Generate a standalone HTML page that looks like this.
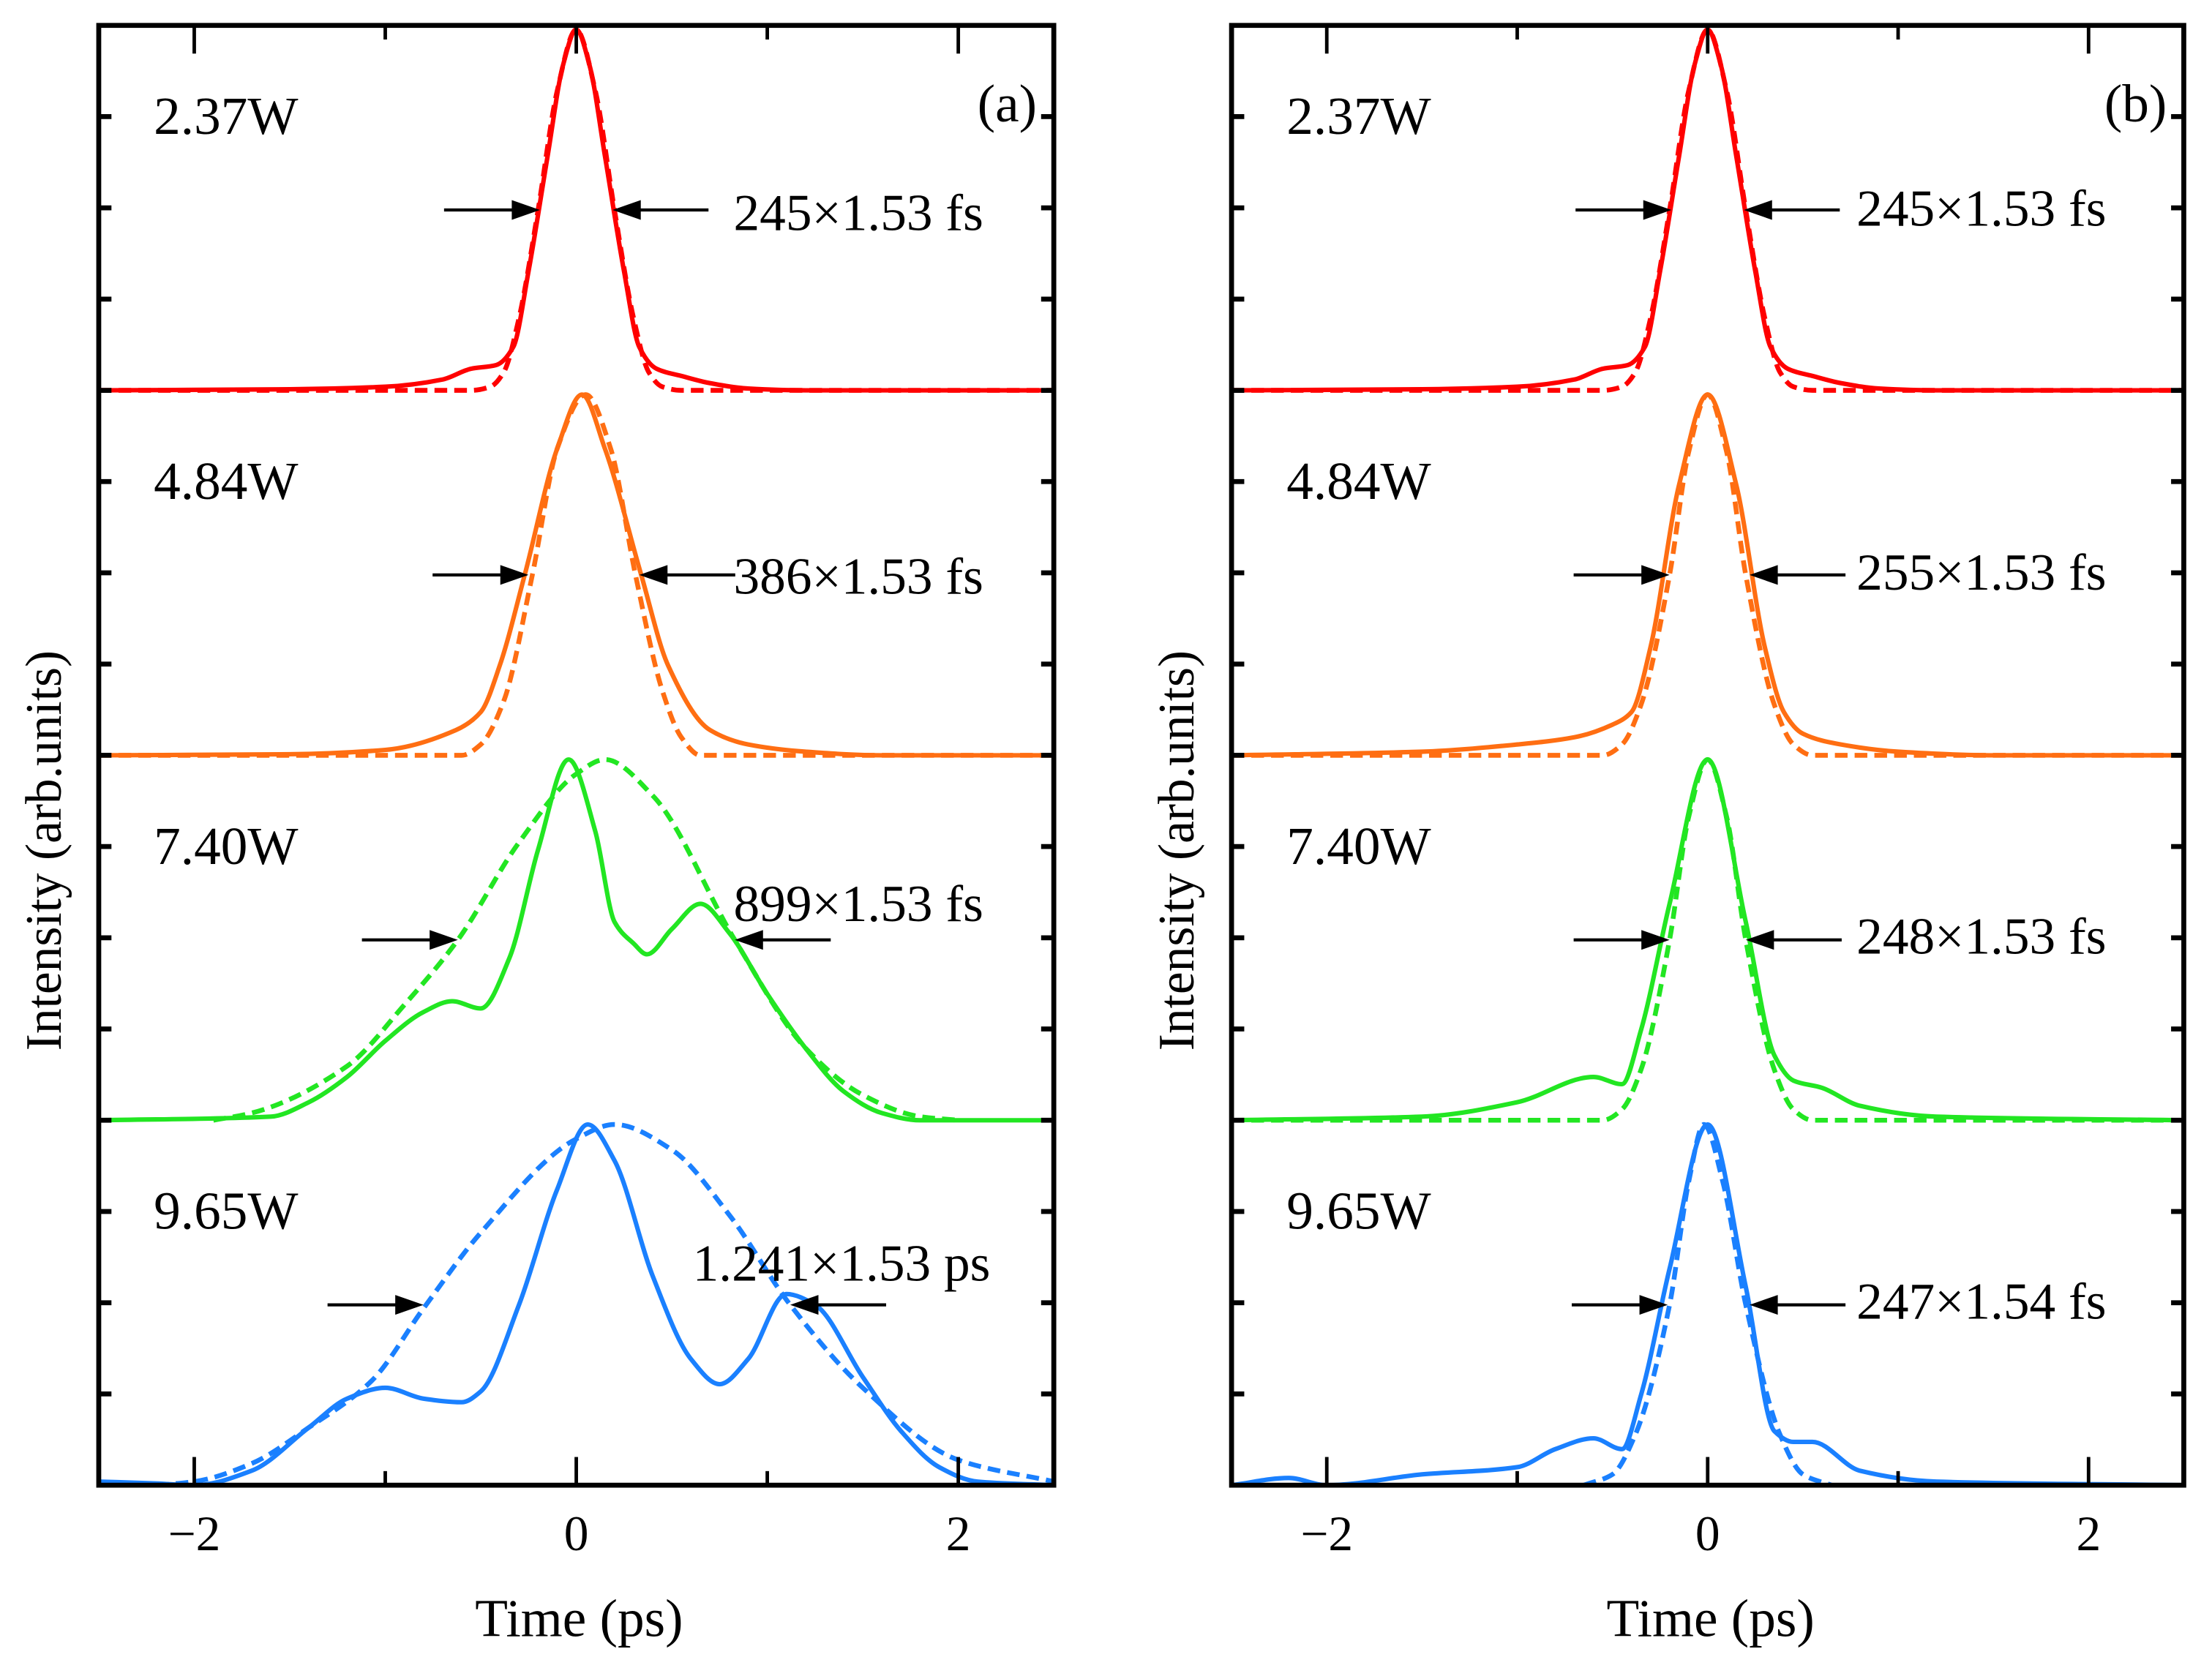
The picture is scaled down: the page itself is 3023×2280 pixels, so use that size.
<!DOCTYPE html>
<html><head><meta charset="utf-8"><style>
html,body{margin:0;padding:0;background:#fff;}
svg{display:block;}
text{font-family:"Liberation Serif",serif;fill:#000;}
</style></head><body>
<svg id="fig" width="3023" height="2280" viewBox="0 0 1568 1182.6" xmlns="http://www.w3.org/2000/svg"></svg>
<script>
// ---- data (time in ps, normalized intensity) ----
const redT  = [-2.5,-1.5,-1.0,-0.7,-0.55,-0.42,-0.33,-0.25,-0.15,-0.07,0,0.07,0.15,0.25,0.33,0.42,0.55,0.7,0.9,1.2,2.5];
const redV  = [0,0.003,0.01,0.03,0.06,0.07,0.12,0.33,0.65,0.9,1,0.9,0.65,0.33,0.12,0.06,0.04,0.02,0.005,0,0];
const redFT = [-2.5,-0.55,-0.45,-0.38,-0.3,-0.2,-0.1,0,0.1,0.2,0.3,0.38,0.45,0.55,2.5];
const redFV = [0,0,0.01,0.05,0.2,0.5,0.83,1,0.83,0.5,0.2,0.05,0.01,0,0];
const redFBT = redFT, redFBV = redFV;

const orAT  = [-2.5,-1.5,-1.0,-0.63,-0.5,-0.4,-0.27,-0.1,0.03,0.15,0.34,0.48,0.7,0.9,1.2,1.6,2.5];
const orAV  = [0,0.003,0.015,0.07,0.12,0.25,0.5,0.85,1,0.85,0.5,0.25,0.07,0.03,0.01,0,0];
const orAFT = [-2.5,-0.6,-0.5,-0.38,-0.23,-0.1,0.05,0.18,0.31,0.45,0.55,0.65,2.5];
const orAFV = [0,0,0.03,0.15,0.5,0.85,1,0.85,0.5,0.18,0.05,0,0];

const grAT  = [-2.5,-1.6,-1.4,-1.2,-1.0,-0.8,-0.65,-0.5,-0.35,-0.2,-0.04,0.1,0.2,0.3,0.37,0.5,0.65,0.8,1.0,1.2,1.4,1.6,1.8,2.5];
const grAV  = [0,0.01,0.05,0.12,0.22,0.30,0.33,0.31,0.45,0.75,1,0.8,0.55,0.49,0.46,0.53,0.6,0.52,0.35,0.2,0.08,0.02,0,0];
const grAFT = [-1.9,-1.7,-1.2,-0.9,-0.62,-0.3,0,0.15,0.4,0.83,1.2,1.5,1.8,2.0];
const grAFV = [0,0.02,0.15,0.32,0.5,0.77,0.96,1,0.9,0.5,0.2,0.07,0.01,0];

const blAT  = [-2.5,-2.2,-2.0,-1.7,-1.4,-1.2,-1.0,-0.8,-0.6,-0.5,-0.3,-0.1,0.06,0.2,0.4,0.6,0.75,0.9,1.1,1.25,1.5,1.7,1.9,2.1,2.5];
const blAV  = [0.01,0.005,0,0.04,0.16,0.24,0.27,0.24,0.23,0.26,0.5,0.82,1,0.9,0.58,0.35,0.28,0.35,0.53,0.5,0.3,0.15,0.05,0.01,0];
const blAFT = [-2.2,-2.0,-1.7,-1.4,-1.07,-0.8,-0.5,0,0.2,0.5,0.8,1.12,1.5,2.0,2.5];
const blAFV = [0,0.01,0.06,0.16,0.29,0.49,0.7,0.96,1,0.93,0.75,0.5,0.27,0.07,0.01];

const orBT  = [-2.5,-1.5,-1.0,-0.7,-0.5,-0.4,-0.3,-0.15,0,0.15,0.3,0.4,0.5,0.7,1.0,1.5,2.5];
const orBV  = [0,0.01,0.03,0.05,0.085,0.12,0.3,0.75,1,0.75,0.3,0.12,0.06,0.03,0.01,0,0];
const orBFT = [-2.5,-0.55,-0.45,-0.35,-0.2,-0.1,0,0.1,0.2,0.35,0.45,0.55,2.5];
const orBFV = [0,0,0.03,0.14,0.5,0.84,1,0.84,0.5,0.14,0.03,0,0];

const grBT  = [-2.5,-1.5,-1.0,-0.6,-0.45,-0.35,-0.2,0,0.2,0.35,0.45,0.6,0.8,1.2,2.5];
const grBV  = [0,0.01,0.05,0.12,0.1,0.25,0.6,1,0.55,0.18,0.11,0.09,0.04,0.01,0];
const grBFT = [-2.5,-0.55,-0.45,-0.35,-0.2,-0.1,0,0.1,0.2,0.35,0.45,0.55,2.5];
const grBFV = [0,0,0.03,0.14,0.5,0.84,1,0.84,0.5,0.14,0.03,0,0];

const blBT  = [-2.5,-2.2,-2.0,-1.5,-1.0,-0.8,-0.6,-0.45,-0.35,-0.2,0,0.2,0.35,0.45,0.55,0.8,1.2,2.5];
const blBV  = [0,0.02,0,0.03,0.05,0.1,0.13,0.1,0.25,0.6,1,0.55,0.15,0.12,0.12,0.04,0.01,0];
const blBFT = [-0.65,-0.5,-0.38,-0.2,-0.1,-0.02,0.08,0.2,0.38,0.5,0.65];
const blBFV = [0,0.03,0.14,0.5,0.84,1,0.84,0.5,0.14,0.03,0];

const powerLabels = ["2.37W","4.84W","7.40W","9.65W"];
const fwhmA = ["245×1.53 fs","386×1.53 fs","899×1.53 fs","1.241×1.53 ps"];
const fwhmB = ["245×1.53 fs","255×1.53 fs","248×1.53 fs","247×1.54 fs"];
const arrowsA = [[-0.19,0.19],[-0.25,0.33],[-0.62,0.83],[-0.8,1.12]];
const arrowsB = [[-0.19,0.19],[-0.2,0.22],[-0.2,0.2],[-0.21,0.22]];
const textYA = [150,408,640,895];
const textYB = [147,405,663,922];
const xTicks = [-2,0,2];
const xMinor = [-1,1];

// ---- layout ----
const NS="http://www.w3.org/2000/svg";
const svg=document.getElementById('fig');
const panels=[{L:70,R:747,name:'a'},{L:873,R:1548,name:'b'}];
const TOP=18,BOT=1053,BAND=(BOT-TOP)/4;
const colors=['#ff0000','#ff6e12','#22e622','#1a80ff'];
function mk(tag,attrs,parent){const e=document.createElementNS(NS,tag);for(const k in attrs)e.setAttribute(k,attrs[k]);(parent||svg).appendChild(e);return e;}
function xs(p,t){return p.L+(t+2.5)/5*(p.R-p.L);}
function ys(band,v){const base=TOP+BAND*(band+1);return base-v*(BAND-3);}
// monotone cubic (Fritsch-Carlson) path
function pathD(p,band,T,V){
  const X=T.map(t=>xs(p,t)),Y=V.map(v=>ys(band,v)),n=X.length;
  const d=[],m=new Array(n);
  for(let i=0;i<n-1;i++)d.push((Y[i+1]-Y[i])/(X[i+1]-X[i]));
  m[0]=d[0];m[n-1]=d[n-2];
  for(let i=1;i<n-1;i++){
    if(d[i-1]*d[i]<=0)m[i]=0;
    else{const w1=2*(X[i+1]-X[i])+(X[i]-X[i-1]),w2=(X[i+1]-X[i])+2*(X[i]-X[i-1]);m[i]=(w1+w2)/(w1/d[i-1]+w2/d[i]);}
  }
  let s='M'+X[0]+','+Y[0];
  for(let i=0;i<n-1;i++){
    const h=(X[i+1]-X[i])/3;
    s+=` C${X[i]+h},${Y[i]+m[i]*h} ${X[i+1]-h},${Y[i+1]-m[i+1]*h} ${X[i+1]},${Y[i+1]}`;
  }
  return s;
}
const series=[
 [[redT,redV,redFT,redFV],[orAT,orAV,orAFT,orAFV],[grAT,grAV,grAFT,grAFV],[blAT,blAV,blAFT,blAFV]],
 [[redT,redV,redFBT,redFBV],[orBT,orBV,orBFT,orBFV],[grBT,grBV,grBFT,grBFV],[blBT,blBV,blBFT,blBFV]]
];
const names=['red','orange','green','blue'];
panels.forEach((p,pi)=>{
  const g=mk('g',{});
  
  
  const clip=mk('clipPath',{id:'clip'+pi},svg);
  mk('rect',{x:p.L,y:TOP-2,width:p.R-p.L,height:BOT-TOP+2},clip);
  const cg=mk('g',{'clip-path':'url(#clip'+pi+')'},g);
  for(let b=0;b<4;b++){
    const s=series[pi][b];
    const fit=mk('path',{d:pathD(p,b,s[2],s[3]),fill:'none',stroke:colors[b],'stroke-width':3.4,'stroke-dasharray':'9 5'},cg);
    
    
    const ln=mk('path',{d:pathD(p,b,s[0],s[1]),fill:'none',stroke:colors[b],'stroke-width':3.2,'stroke-linejoin':'round'},cg);
    
    
    const base=TOP+BAND*b;
    const pl=mk('text',{x:p.L+39,y:base+77,'font-size':38},g);pl.textContent=powerLabels[b];
    
    
    const ay=ys(b,0.5);
    const ar=(pi==0?arrowsA:arrowsB)[b];
    const lx=xs(p,ar[0]),rx=xs(p,ar[1]);
    const ag=mk('g',{},g);
    
    
    mk('line',{x1:lx-68,y1:ay,x2:lx-16,y2:ay,stroke:'#000','stroke-width':2.2},ag);
    mk('polygon',{points:`${lx},${ay} ${lx-20},${ay-7} ${lx-20},${ay+7}`,fill:'#000'},ag);
    mk('line',{x1:rx+16,y1:ay,x2:rx+68,y2:ay,stroke:'#000','stroke-width':2.2},ag);
    mk('polygon',{points:`${rx},${ay} ${rx+20},${ay-7} ${rx+20},${ay+7}`,fill:'#000'},ag);
    const txt=(pi==0?fwhmA:fwhmB)[b];
    let tx=pi==0?p.L+450:p.L+443;
    if(pi==0&&b==3)tx=p.L+421;
    const ty=(pi==0?textYA:textYB)[b];
    const ft=mk('text',{x:tx,y:ty+13,'font-size':37},g);ft.textContent=txt;
    
    
  }
  const fr=mk('rect',{x:p.L,y:TOP,width:p.R-p.L,height:BOT-TOP,fill:'none',stroke:'#000','stroke-width':3.5},g);
  
  
  for(let k=1;k<16;k++){
    const y=TOP+k*(BOT-TOP)/16;
    mk('line',{x1:p.L,y1:y,x2:p.L+9,y2:y,stroke:'#000','stroke-width':3.5},g);
    mk('line',{x1:p.R-9,y1:y,x2:p.R,y2:y,stroke:'#000','stroke-width':3.5},g);
  }
  xTicks.forEach(t=>{
    const x=xs(p,t);
    mk('line',{x1:x,y1:BOT,x2:x,y2:BOT-20,stroke:'#000','stroke-width':2.5},g);
    mk('line',{x1:x,y1:TOP,x2:x,y2:TOP+20,stroke:'#000','stroke-width':2.5},g);
    const tl=mk('text',{x:x,y:BOT+46,'font-size':35,'text-anchor':'middle'},g);
    tl.textContent=t<0?'−'+Math.abs(t):String(t);
    
    
  });
  xMinor.forEach(t=>{
    const x=xs(p,t);
    mk('line',{x1:x,y1:BOT,x2:x,y2:BOT-10,stroke:'#000','stroke-width':2.5},g);
    mk('line',{x1:x,y1:TOP,x2:x,y2:TOP+10,stroke:'#000','stroke-width':2.5},g);
  });
  const xl=mk('text',{x:(p.L+p.R)/2+2,y:1160,'font-size':38,'text-anchor':'middle'},g);xl.textContent='Time (ps)';
  
  
  const yl=mk('text',{x:0,y:0,'font-size':36,'text-anchor':'middle',transform:`translate(${p.L-27},603) rotate(-90)`},g);
  yl.textContent='Intensity (arb.units)';
  
  
  const pn=mk('text',{x:p.R-12,y:86,'font-size':38,'text-anchor':'end'},g);pn.textContent='('+p.name+')';
  
  
});
</script>
</body></html>
